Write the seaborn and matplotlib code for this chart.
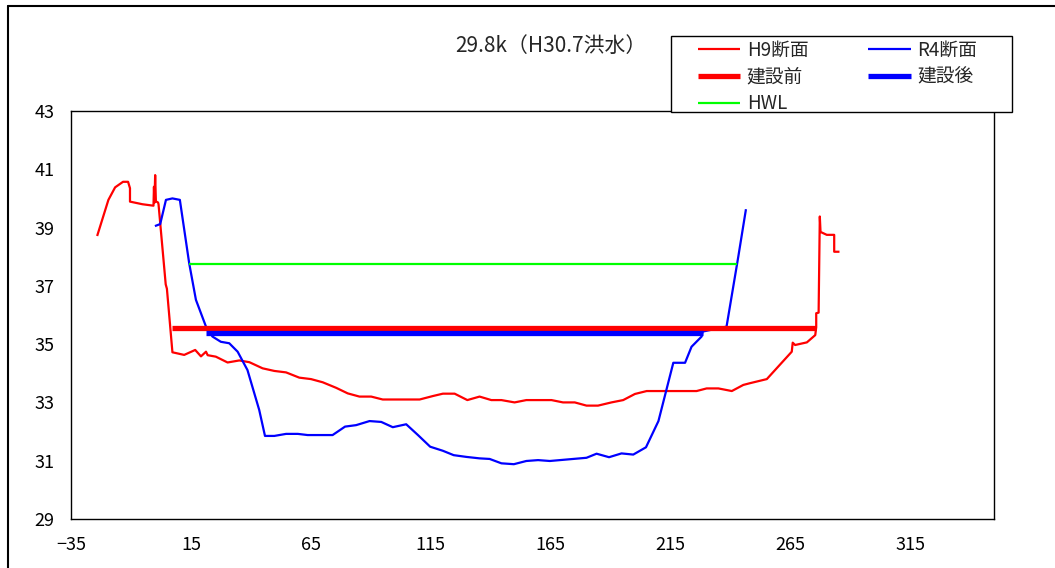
import matplotlib
matplotlib.use("Agg")
import matplotlib.pyplot as plt
from matplotlib.lines import Line2D
from matplotlib.patches import Rectangle
import seaborn as sns
import pandas as pd

# Cross-section survey, distance (m) vs elevation (m)
h9_x = [-24.1, -19.4, -16.6, -13.3, -11.2, -10.4, -10.4, -5.2, -0.6, -0.4, -0.2, 0.1, 0.4, 1.3,
        1.5, 4.5, 5.0, 7.3, 12.2, 16.8, 19.2, 21.3, 22.0, 25.4, 30.3, 35.2, 39.4, 44.9, 49.8,
        54.7, 60.2, 65.1, 70.0, 75.6, 80.4, 85.3, 90.2, 95.0, 110.4, 116.0, 120.1, 125.0, 130.3,
        135.4, 140.3, 144.5, 150.0, 154.9, 165.4, 170.2, 175.1, 180.0, 184.8, 190.4, 195.3,
        200.2, 205.1, 225.9, 230.1, 235.0, 240.6, 245.4, 248.2, 255.2, 265.6, 266.0, 267.0,
        271.9, 275.4, 275.8, 275.8, 276.8, 277.3, 277.6, 280.2, 283.3, 283.3, 285.5]
h9_y = [38.71, 39.95, 40.38, 40.57, 40.57, 40.35, 39.89, 39.80, 39.75, 40.40, 39.85, 40.80,
        39.90, 39.86, 39.80, 37.05, 36.90, 34.72, 34.63, 34.80, 34.58, 34.74, 34.62, 34.57,
        34.37, 34.44, 34.38, 34.17, 34.08, 34.03, 33.85, 33.80, 33.69, 33.50, 33.31, 33.20,
        33.20, 33.10, 33.10, 33.22, 33.30, 33.30, 33.08, 33.20, 33.08, 33.08, 33.00, 33.08,
        33.08, 33.00, 33.00, 32.89, 32.89, 33.00, 33.08, 33.29, 33.39, 33.39, 33.48, 33.48,
        33.39, 33.60, 33.66, 33.80, 34.74, 35.05, 34.97, 35.06, 35.31, 35.58, 36.06, 36.08,
        39.38, 38.85, 38.75, 38.75, 38.17, 38.17]

r4_x = [0.0, 2.2, 4.6, 7.3, 10.4, 14.3, 17.1, 21.3, 24.0, 27.5, 31.0, 34.5, 38.6, 43.5, 45.9,
        49.8, 54.7, 59.6, 63.7, 74.1, 79.3, 83.9, 89.5, 94.4, 99.2, 104.8, 109.7, 114.8, 120.1,
        124.6, 129.9, 135.4, 139.6, 144.5, 149.7, 154.9, 159.8, 164.7, 180.0, 184.2, 189.4,
        194.6, 199.5, 204.8, 210.0, 216.2, 221.1, 223.8, 228.0, 228.4, 238.4, 243.3, 246.5]
r4_y = [39.05, 39.12, 39.95, 40.00, 39.95, 37.77, 36.52, 35.60, 35.26, 35.08, 35.03, 34.74,
        34.11, 32.74, 31.85, 31.85, 31.92, 31.92, 31.88, 31.88, 32.17, 32.22, 32.36, 32.33,
        32.15, 32.25, 31.88, 31.48, 31.34, 31.19, 31.13, 31.08, 31.06, 30.91, 30.88, 30.99,
        31.02, 30.99, 31.10, 31.24, 31.12, 31.25, 31.21, 31.46, 32.36, 34.36, 34.36, 34.91,
        35.26, 35.43, 35.60, 38.00, 39.63]

pre_x = [7.0, 275.8]
pre_y = [35.56, 35.56]
post_x = [21.4, 228.6]
post_y = [35.37, 35.37]
hwl_x = [14.3, 242.8]
hwl_y = [37.75, 37.75]

x_ticks = [-35, 15, 65, 115, 165, 215, 265, 315]
y_ticks = [29, 31, 33, 35, 37, 39, 41, 43]
title = "29.8k（H30.7洪水）"

sns.set_style("white")
plt.rcParams["font.family"] = ["Noto Sans CJK JP", "DejaVu Sans"]

W, H = 1055, 568
fig = plt.figure(figsize=(W / 100, H / 100), dpi=100)
ax = fig.add_axes([0.0673, 0.0863, 0.8750, 0.7183])

series = [
    ("H9断面", h9_x, h9_y, "#ff0000", 1.6),
    ("R4断面", r4_x, r4_y, "#0000ff", 1.6),
    ("HWL", hwl_x, hwl_y, "#00ff00", 1.6),
    ("建設前", pre_x, pre_y, "#ff0000", 3.8),
    ("建設後", post_x, post_y, "#0000ff", 3.8),
]
handles = {}
for name, xs, ys, color, lw in series:
    df = pd.DataFrame({"x": xs, "y": ys})
    sns.lineplot(data=df, x="x", y="y", sort=False, estimator=None, color=color,
                 linewidth=lw, ax=ax, legend=False, solid_capstyle="butt")
    handles[name] = Line2D([], [], color=color, linewidth=lw, solid_capstyle="butt")

ax.set_xlim(-35, 350)
ax.set_ylim(29, 43)
ax.set_xticks(x_ticks)
ax.set_yticks(y_ticks)
ax.set_xticklabels([str(v).replace("-", "\u2212") for v in x_ticks])
ax.set_xlabel("")
ax.set_ylabel("")
ax.tick_params(direction="in", length=6, width=0.8, labelsize=13, colors="#000000")
ax.tick_params(axis="x", pad=12)
ax.tick_params(axis="y", pad=12)
for s in ax.spines.values():
    s.set_visible(True)
    s.set_color("#000000")
    s.set_linewidth(1.0)

fig.text(551 / W, 1 - 46 / H, title, ha="center", va="center", fontsize=15)

# legend box drawn over the top spine
fig.add_artist(Rectangle((671 / W, 1 - 112 / H), 341 / W, 76 / H, transform=fig.transFigure,
                         facecolor="white", edgecolor="#000000", linewidth=1.0, zorder=5))
order = ["H9断面", "建設前", "HWL", "R4断面", "建設後"]
leg = fig.legend([handles[k] for k in order], order, ncol=2, loc="upper left",
                 bbox_to_anchor=(698 / W, 1 - 40 / H), bbox_transform=fig.transFigure,
                 frameon=False, fontsize=13.5,
                 handlelength=2.25, handletextpad=0.35, columnspacing=3.2,
                 labelspacing=0.3, borderpad=0.0, borderaxespad=0)
leg.set_zorder(6)

# outer chart frame
fig.add_artist(Line2D([0.0075, 0.0075], [0.0, 0.99], transform=fig.transFigure,
                      color="#000000", linewidth=1.5))
fig.add_artist(Line2D([0.0075, 1.0], [0.99, 0.99], transform=fig.transFigure,
                      color="#000000", linewidth=1.5))

fig.savefig("out.png", dpi=100)
